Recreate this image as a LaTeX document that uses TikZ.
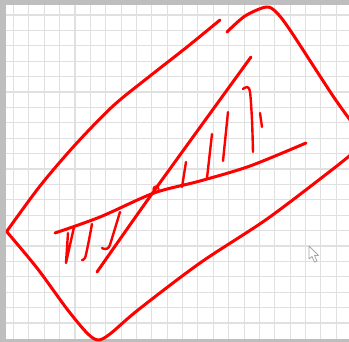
\documentclass[tikz,border=0pt]{standalone}
\usepackage{tikz}
\definecolor{inkred}{HTML}{FF0000}
\definecolor{frame}{HTML}{BEBEBE}
\definecolor{gridgray}{HTML}{E0E0E0}

\begin{document}
\begin{tikzpicture}[x=1pt,y=-1pt,
  redink/.style={draw=inkred,line width=3pt,line cap=round,line join=round},
  hatch/.style={draw=inkred,line width=2.4pt,line cap=round,line join=round},
  gridline/.style={draw=gridgray,line width=1.1pt},
  pointer/.style={draw=gray!70,fill=white,line width=0.8pt,line join=round}
]
\useasboundingbox (0,0) rectangle (349,342);
\fill[frame] (0,0) rectangle (349,342);
\fill[white] (6,5) rectangle (349,339);
\begin{scope}
\clip (6,5) rectangle (349,339);
\foreach \k in {0,...,21}
  \draw[gridline] ({13.5+15.37*\k},5) -- ({13.5+15.37*\k},339);
\foreach \k in {0,...,20}
  \draw[gridline] (6,{15+15.4*\k}) -- (349,{15+15.4*\k});
\end{scope}
\begin{scope}
\clip (0,0) rectangle (349,342);
\draw[redink] plot[smooth] coordinates {(220,20) (187,47) (150,76) (113,106)
  (75,145) (40,186) (7,231)};
\draw[redink] plot[smooth] coordinates {(7,232) (37,268) (67,309) (87,333)
  (98,340) (110,334) (138,310) (200,263) (267,219) (333,169) (354,152)};
\draw[redink] plot[smooth] coordinates {(227,32) (245,16) (266,7) (276,12)
  (290,30) (333,96) (356,128)};
\draw[redink] plot[smooth] coordinates {(97,272) (154,191) (251,57)};
\draw[redink] plot[smooth] coordinates {(55,233) (100,217) (154,193) (200,181)
  (250,166) (306,143)};
\draw[hatch,line width=1.6pt] (156,189) circle (2.8);
\draw[hatch] (68,233) -- (66,263) -- (74,227);
\draw[hatch] plot[smooth] coordinates {(92,224) (88,245) (85,258) (82,260)};
\draw[hatch] plot[smooth] coordinates {(120,212) (113,235) (109,247) (105,249) (102,248)};
\draw[hatch] (182,187) -- (186,162);
\draw[hatch] (207,178) -- (212,134);
\draw[hatch] (223,161) -- (228,112);
\draw[hatch] plot[smooth] coordinates {(243,89) (247,87) (250,92) (252,120) (253,152)};
\draw[hatch] (260,113) -- (262,127);
\end{scope}
\draw[pointer] (309,246) -- (309,259) -- (312,256.5) -- (314.5,262) -- (317,261)
  -- (314.5,255.5) -- (318.5,255.5) -- cycle;
\end{tikzpicture}
\end{document}
